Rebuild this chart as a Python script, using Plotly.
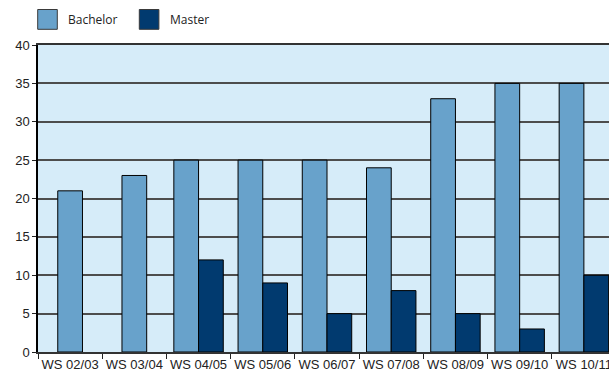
import plotly.graph_objects as go

# Enrolment by winter semester (no Master programme before WS 04/05)
semesters = ["WS 02/03", "WS 03/04", "WS 04/05", "WS 05/06", "WS 06/07",
             "WS 07/08", "WS 08/09", "WS 09/10", "WS 10/11"]
bachelor = [21, 23, 25, 25, 25, 24, 33, 35, 35]
master = [None, None, 12, 9, 5, 8, 5, 3, 10]

series_names = ["Bachelor", "Master"]
series_colors = ["#68a2cb", "#013a6f"]

W, H = 609, 375
ML, MR, MT, MB = 38, 0, 45, 23
PW, PH = W - ML - MR, H - MT - MB

BAR_W = 0.385  # width of a single bar, in category units

# Where a semester has no Master value, its Bachelor bar sits centred
bach_offset = [-BAR_W if m is not None else -BAR_W / 2 for m in master]
mast_offset = [0.0 for _ in master]

fig = go.Figure()
for name, vals, col, off in zip(series_names, [bachelor, master],
                                series_colors, [bach_offset, mast_offset]):
    fig.add_trace(go.Bar(
        x=semesters, y=vals, name=name,
        width=[BAR_W] * len(vals), offset=off,
        marker=dict(color=col, line=dict(color="#000000", width=1)),
        showlegend=False,
    ))


def px_x(p):
    return (p - ML) / PW


def px_y(p):
    return (H - MB - p) / PH


# Legend swatches and labels drawn in pixel positions above the plot
swatch_left = [37.7, 139.3]
label_left = [66, 168]
shapes = []
annotations = []
for i, (name, col) in enumerate(zip(series_names, series_colors)):
    shapes.append(dict(
        type="rect", xref="paper", yref="paper",
        x0=px_x(swatch_left[i]), x1=px_x(swatch_left[i] + 19.6),
        y0=px_y(29.3), y1=px_y(9.5),
        fillcolor=col, line=dict(color="#3a3a3a", width=1),
    ))
    annotations.append(dict(
        xref="paper", yref="paper", x=px_x(label_left[i]), y=px_y(19.5),
        text=name, showarrow=False, xanchor="left", yanchor="middle",
        font=dict(family="Open Sans", size=12, color="#222222"),
    ))

n = len(semesters)
fig.update_layout(
    width=W, height=H,
    margin=dict(l=ML, r=MR, t=MT, b=MB, pad=0, autoexpand=False),
    paper_bgcolor="white",
    plot_bgcolor="#d6ecf9",
    barmode="overlay",
    shapes=shapes,
    annotations=annotations,
    font=dict(family="Liberation Sans, Arial", size=13, color="#222222"),
    xaxis=dict(
        type="category",
        range=[-0.5, n - 0.5 - 7 / 64.2],
        automargin=False,
        tickangle=0,
        showgrid=False,
        showline=True, linecolor="#333333", linewidth=1.5, mirror=True,
        ticks="outside", tickson="boundaries", ticklen=5,
        tickcolor="#222222", tickwidth=1,
        tickfont=dict(size=13),
    ),
    yaxis=dict(
        range=[0, 40],
        automargin=False,
        tickvals=list(range(0, 41, 5)),
        showgrid=True, gridcolor="#4d4d4d", gridwidth=1.5,
        zeroline=False,
        showline=True, linecolor="#000000", linewidth=1.5,
        ticks="outside", ticklen=4, tickcolor="#222222", tickwidth=1,
        tickfont=dict(size=13),
    ),
)

fig.write_html("out.html")
